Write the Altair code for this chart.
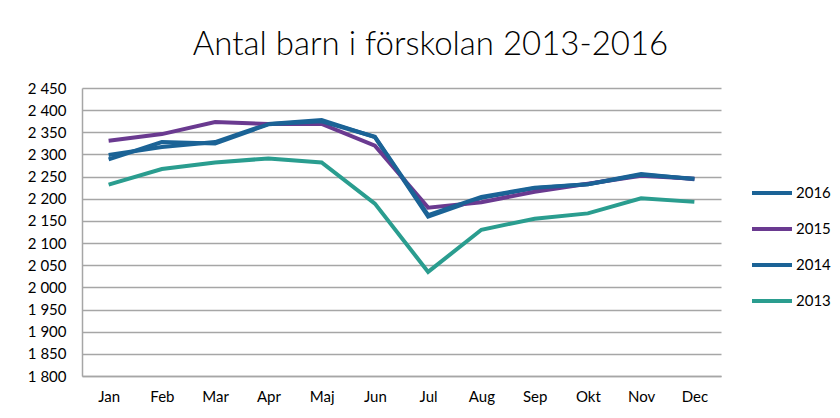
import altair as alt
import pandas as pd

months = ["Jan", "Feb", "Mar", "Apr", "Maj", "Jun", "Jul", "Aug", "Sep", "Okt", "Nov", "Dec"]
years = ["2016", "2015", "2014", "2013"]
v2016 = [2299, 2317, 2328, 2369, 2378, 2339, 2160, 2202, 2224, 2233, 2256, 2244]
v2015 = [2331, 2346, 2373, 2369, 2369, 2320, 2180, 2192, 2216, 2234, 2252, 2245]
v2014 = [2289, 2328, 2325, 2368, 2375, 2340, 2163, 2204, 2225, 2233, 2254, 2245]
v2013 = [2232, 2267, 2282, 2291, 2282, 2189, 2035, 2130, 2155, 2167, 2201, 2193]
colors = ["#1B6396", "#6A3A90", "#1B6396", "#2A9D8F"]
y_ticks = list(range(1800, 2451, 50))

series = {"2016": v2016, "2015": v2015, "2014": v2014, "2013": v2013}
rows = []
for yr in years:
    for m, v in zip(months, series[yr]):
        rows.append({"month": m, "year": yr, "value": v})
df = pd.DataFrame(rows)

chart = alt.Chart(df).mark_line(strokeWidth=4).encode(
    x=alt.X("month:N", sort=months, title=None,
            scale=alt.Scale(type="point", padding=0.5),
            axis=alt.Axis(labelAngle=0, ticks=False, grid=False, labelPadding=13,
                          domainColor="#A6A6A6", domainWidth=1.5)),
    y=alt.Y("value:Q", title=None,
            scale=alt.Scale(domain=[1800, 2450], nice=False, zero=False),
            axis=alt.Axis(values=y_ticks, ticks=False, labelPadding=16,
                          labelExpr="replace(format(datum.value, ','), ',', ' ')",
                          gridColor="#A6A6A6", gridWidth=1.5,
                          domainColor="#A6A6A6", domainWidth=1.5)),
    color=alt.Color("year:N", sort=years,
                    scale=alt.Scale(domain=years, range=colors),
                    legend=alt.Legend(title=None, orient="none", legendX=668, legendY=83,
                                      symbolType="stroke", symbolSize=1600,
                                      symbolStrokeWidth=4, rowPadding=6,
                                      labelOffset=2)),
).properties(
    width=639,
    height=288,
    title=alt.TitleParams("Antal barn i förskolan 2013-2016", fontSize=33,
                          font="Lato", fontWeight=300, color="#000000",
                          anchor="middle", dx=29, offset=19),
    autosize=alt.AutoSizeParams(type="none"),
    padding={"left": 74, "top": 80, "right": 111, "bottom": 34},
).configure(
    background="white",
    font="Lato",
).configure_axis(
    labelFont="Lato", labelFontSize=15, labelColor="#000000",
).configure_legend(
    labelFont="Lato", labelFontSize=15, labelColor="#000000",
).configure_view(stroke=None)

chart.save("out.html", embed_options={"renderer": "svg", "actions": False})
